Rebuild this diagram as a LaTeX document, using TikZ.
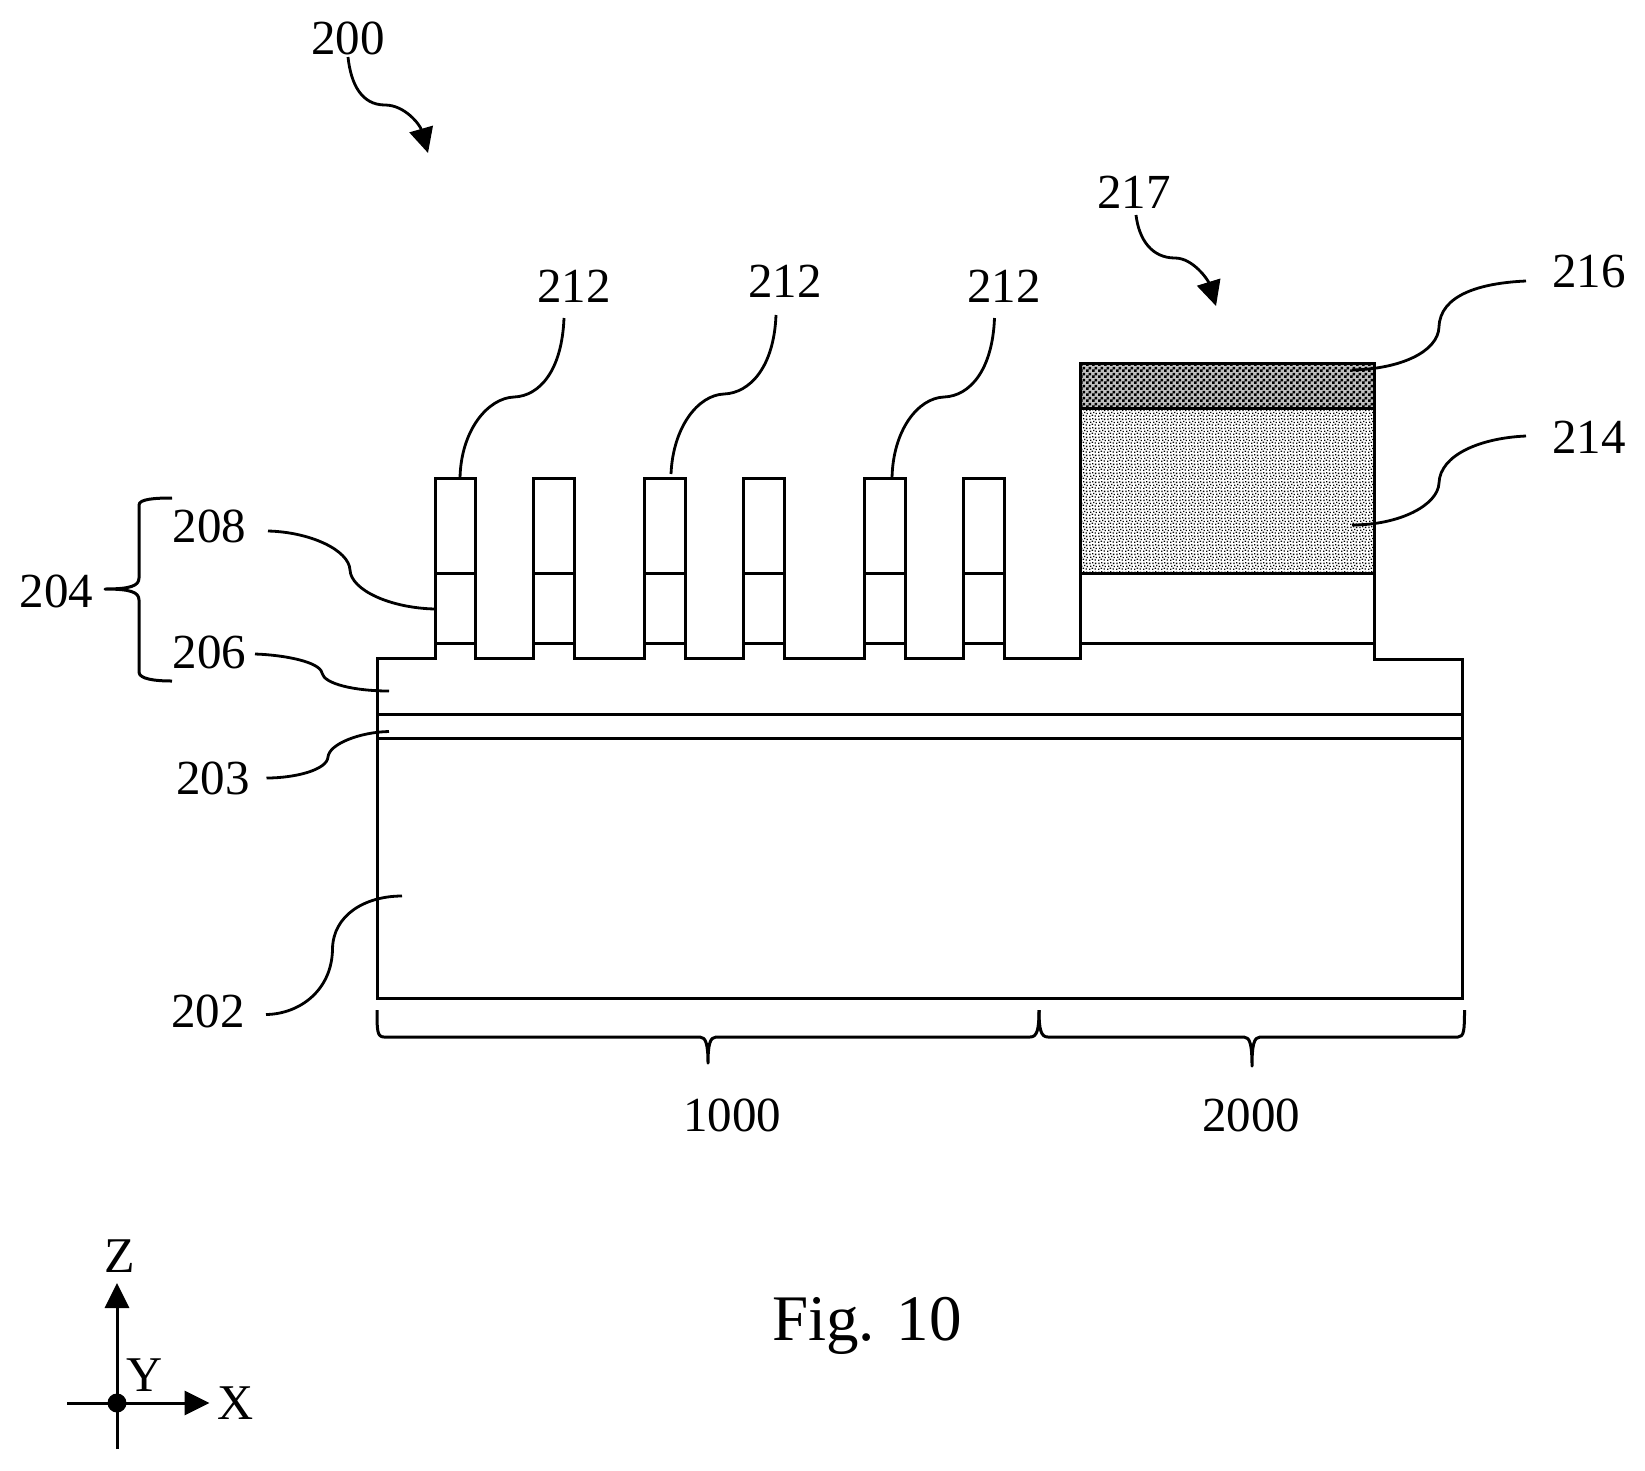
\documentclass[tikz,border=0pt]{standalone}
\usepackage{fontspec}
\setmainfont{Liberation Serif}
\usetikzlibrary{arrows.meta,patterns}
\pgfdeclarepatternformonly{chk}{\pgfpointorigin}{\pgfpoint{6pt}{6pt}}{\pgfpoint{6pt}{6pt}}{%
  \pgfpathrectangle{\pgfpointorigin}{\pgfpoint{3pt}{3pt}}%
  \pgfpathrectangle{\pgfpoint{3pt}{3pt}}{\pgfpoint{3pt}{3pt}}%
  \pgfusepath{fill}}
\pgfdeclarepatternformonly{spk}{\pgfpointorigin}{\pgfpoint{9pt}{9pt}}{\pgfpoint{9pt}{9pt}}{%
  \pgfpathrectangle{\pgfpoint{0pt}{0pt}}{\pgfpoint{1.45pt}{1.45pt}}%
  \pgfpathrectangle{\pgfpoint{3pt}{1.2pt}}{\pgfpoint{1.45pt}{1.45pt}}%
  \pgfpathrectangle{\pgfpoint{6.2pt}{0.4pt}}{\pgfpoint{1.45pt}{1.45pt}}%
  \pgfpathrectangle{\pgfpoint{1.2pt}{3.4pt}}{\pgfpoint{1.45pt}{1.45pt}}%
  \pgfpathrectangle{\pgfpoint{4.6pt}{4.2pt}}{\pgfpoint{1.45pt}{1.45pt}}%
  \pgfpathrectangle{\pgfpoint{7.4pt}{3.2pt}}{\pgfpoint{1.45pt}{1.45pt}}%
  \pgfpathrectangle{\pgfpoint{0.4pt}{6.6pt}}{\pgfpoint{1.45pt}{1.45pt}}%
  \pgfpathrectangle{\pgfpoint{3.4pt}{7.2pt}}{\pgfpoint{1.45pt}{1.45pt}}%
  \pgfpathrectangle{\pgfpoint{6.6pt}{6.6pt}}{\pgfpoint{1.45pt}{1.45pt}}%
  \pgfusepath{fill}}
\tikzset{
  body/.style={line width=3pt,line join=miter},
  lead/.style={line width=2.8pt},
  brc/.style={line width=3pt,line join=round},
  lab/.style={font=\fontsize{49}{49}\selectfont,inner sep=0pt,text=black},
  axlab/.style={font=\fontsize{50}{50}\selectfont,inner sep=0pt,text=black},
  figlab/.style={font=\fontsize{65}{65}\selectfont,inner sep=0pt,text=black},
  pointer/.style={line width=2.8pt,-{Triangle[length=25pt,width=24pt]}},
  axis/.style={line width=3pt,-{Triangle[length=25pt,width=24pt]}},
}
\begin{document}
\begin{tikzpicture}[x=1pt,y=-1pt]
\useasboundingbox[fill=white] (0,0) rectangle (1645,1470);
% fills of gate stack
\fill[black!25] (1080.5,363) rectangle (1374.5,408);
\fill[pattern=chk,pattern color=black] (1080.5,363) rectangle (1374.5,408);
\fill[pattern=spk,pattern color=black] (1080.5,408) rectangle (1374.5,573);
% outline
\draw[body] (377,998) -- (377,658) -- (435,658)
  -- (435,478) -- (475,478) -- (475,658)
  -- (533.5,658) -- (533.5,478) -- (574,478) -- (574,658)
  -- (644,658) -- (644,478) -- (685,478) -- (685,658)
  -- (743,658) -- (743,478) -- (784,478) -- (784,658)
  -- (864.5,658) -- (864.5,478) -- (905.5,478) -- (905.5,658)
  -- (963,658) -- (963,478) -- (1004,478) -- (1004,658)
  -- (1080.5,658) -- (1080.5,363) -- (1374.5,363) -- (1374.5,659)
  -- (1462.5,659) -- (1462.5,998) -- cycle;
% fin interior lines
\foreach \a/\b in {435/475,533.5/574,644/685,743/784,864.5/905.5,963/1004}{
  \draw[body] (\a,573) -- (\b,573);
  \draw[body] (\a,643) -- (\b,643);
}
% block interior lines
\draw[body] (1080.5,408) -- (1374.5,408);
\draw[body] (1080.5,573) -- (1374.5,573);
\draw[body] (1080.5,643) -- (1374.5,643);
% layers
\draw[body] (377,714.5) -- (1462.5,714.5);
\draw[body] (377,738.5) -- (1462.5,738.5);
% labels
\node[lab] (n200) at (348,38.5) {200};
\node[lab] (n217) at (1134,192) {217};
\node[lab] (n212a) at (574,286.5) {212};
\node[lab] (n212b) at (785,281.5) {212};
\node[lab] (n212c) at (1004,286.5) {212};
\node[lab] (n216) at (1589,271.5) {216};
\node[lab] (n214) at (1589,437.5) {214};
\node[lab] (n208) at (209.5,526) {208};
\node[lab] (n206) at (209.5,652) {206};
\node[lab] (n204) at (56.5,591) {204};
\node[lab] (n203) at (213,778) {203};
\node[lab] (n202) at (208,1011) {202};
\node[lab] (n1000) at (732,1115.5) {1000};
\node[lab] (n2000) at (1251,1115.5) {2000};
\node[figlab] (fig) at (867,1326) {Fig. 10};
% pointer arrows
\draw[pointer] (348,57) .. controls (351,85) and (362,105) .. (385,105) .. controls (405,105) and (420,125) .. (428,153);
\draw[pointer] (1136,215) .. controls (1139,240) and (1152,258) .. (1175,258) .. controls (1193,258) and (1208,280) .. (1216,306);
% leaders
\draw[lead] (564,318) .. controls (562,370) and (540,396) .. (514,397) .. controls (488,398) and (461,430) .. (460,478);
\draw[lead] (776,315) .. controls (774,367) and (750,393) .. (724,394) .. controls (698,395) and (673,427) .. (671,474);
\draw[lead] (994.5,318) .. controls (992.5,370) and (970,396) .. (944,397) .. controls (918,398) and (893,430) .. (892,478);
\draw[lead] (1526,281) .. controls (1480,283) and (1440,295) .. (1439,327) .. controls (1438,352) and (1400,369) .. (1352,370);
\draw[lead] (1526,436) .. controls (1480,438) and (1440,455) .. (1439,483) .. controls (1438,505) and (1400,525) .. (1352,525);
\draw[lead] (268,531) .. controls (310,532) and (349,550) .. (350,570) .. controls (351,590) and (390,608) .. (435,609);
\draw[lead] (255,654) .. controls (285,655) and (320,662) .. (322,673) .. controls (324,684) and (355,691) .. (389,691);
\draw[lead] (266.5,778) .. controls (295,778) and (327,770) .. (328,757) .. controls (329,744) and (360,732) .. (389,731.5);
\draw[lead] (266,1014.5) .. controls (300,1014) and (332,990) .. (332.5,949) .. controls (333,915) and (365,896) .. (402,896);
% brace 204
\draw[brc] (172,498) .. controls (155,498) and (139,499) .. (139,505) -- (139,578) .. controls (139,586) and (130,589) .. (105,589) .. controls (130,589) and (139,592) .. (139,600) -- (139,672) .. controls (139,679) and (155,681) .. (172,681);
% bottom braces
\draw[brc] (377,1010) .. controls (377,1030) and (377,1037) .. (384,1037) -- (700,1037) .. controls (706,1037) and (708,1045) .. (708,1063) .. controls (708,1045) and (710,1037) .. (716,1037) -- (1030,1037) .. controls (1037,1037) and (1039,1030) .. (1039,1010);
\draw[brc] (1039,1010) .. controls (1039,1030) and (1041,1037) .. (1048,1037) -- (1244,1037) .. controls (1250,1037) and (1252,1045) .. (1252,1066) .. controls (1252,1045) and (1254,1037) .. (1260,1037) -- (1458,1037) .. controls (1464,1037) and (1464.5,1030) .. (1464.5,1010);
% axes
\coordinate (ax0) at (117,1403);
\coordinate (axb) at (117,1449);
\coordinate (axt) at (117,1283);
\coordinate (axl) at (67,1403);
\coordinate (axr) at (209.5,1403);
\draw[axis] (axb) -- (axt);
\draw[axis] (axl) -- (axr);
\fill (ax0) circle (9.5pt);
\node[axlab] (z) at (120,1256) {Z};
\node[axlab] (y) at (145,1375) {Y};
\node[axlab] (xx) at (236,1403) {X};
\end{tikzpicture}
\end{document}
